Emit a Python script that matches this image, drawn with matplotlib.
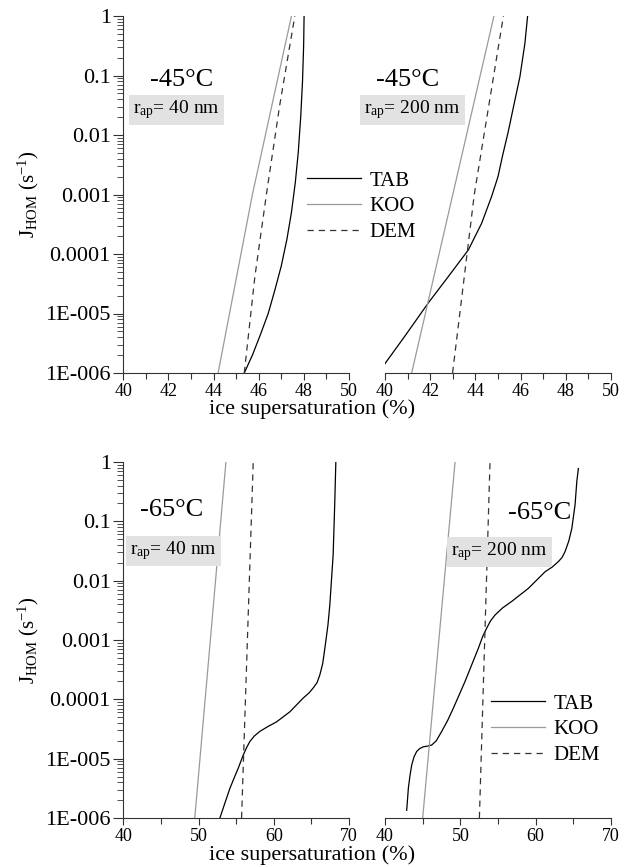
"""Homogeneous freezing rate vs ice supersaturation, four panels."""

import matplotlib
matplotlib.use('Agg')
import matplotlib.pyplot as plt
import numpy as np
from matplotlib.ticker import LogLocator, MultipleLocator, FixedFormatter, FixedLocator

plt.rcParams['font.family'] = ['Liberation Serif', 'DejaVu Serif']
plt.rcParams['mathtext.fontset'] = 'custom'
plt.rcParams['mathtext.rm'] = 'Liberation Serif'

# -45 C, r_ap = 40 nm  (x = ice supersaturation %, y = log10 J)
tab_45_40_x = [45.36, 45.72, 46.08, 46.42, 46.72, 47.0, 47.25, 47.45, 47.62, 47.75, 47.86, 47.94,
               47.99, 48.01]
tab_45_40_y = [-6.0, -5.7, -5.35, -5.0, -4.6, -4.2, -3.75, -3.3, -2.8, -2.3, -1.7, -1.1,
               -0.5, 0.0]
koo_45_40_x = [44.2, 45.72, 47.45]
koo_45_40_y = [-6.0, -3.0, 0.0]
dem_45_40_x = [45.36, 45.83, 46.34, 46.93, 47.6]
dem_45_40_y = [-6.0, -4.38, -3.0, -1.5, 0.0]

# -45 C, r_ap = 200 nm
tab_45_200_x = [39.85, 40.88, 41.92, 42.8, 43.69, 44.28, 44.72, 45.0, 45.2, 45.45, 45.7,
                45.97, 46.19, 46.31]
tab_45_200_y = [-5.92, -5.38, -4.82, -4.38, -3.93, -3.48, -3.03, -2.7, -2.35, -1.95, -1.5,
                -1.02, -0.46, 0.0]
koo_45_200_x = [41.18, 44.82]
koo_45_200_y = [-6.0, 0.0]
dem_45_200_x = [42.99, 43.95, 45.24]
dem_45_200_y = [-6.0, -3.0, 0.0]

# -65 C, r_ap = 40 nm
tab_65_40_x = [52.84, 53.5, 54.17, 54.75, 55.28, 55.94, 56.4, 56.83, 57.4, 58.15, 59.2, 60.37,
               62.14, 63.9, 64.7, 65.23, 65.75, 66.12, 66.5, 66.79, 67.2, 67.45, 67.89,
               68.1, 68.25]
tab_65_40_y = [-6.0, -5.75, -5.5, -5.32, -5.16, -4.94, -4.81, -4.71, -4.62, -4.54, -4.46,
               -4.38, -4.21, -3.98, -3.89, -3.81, -3.72, -3.59, -3.4, -3.14, -2.75, -2.41,
               -1.57, -0.72, 0.0]
koo_65_40_x = [49.5, 53.64]
koo_65_40_y = [-6.0, 0.0]
dem_65_40_x = [55.72, 57.27]
dem_65_40_y = [-6.0, 0.0]

# -65 C, r_ap = 200 nm
tab_65_200_x = [42.88, 43.1, 43.3, 43.54, 43.85, 44.2, 44.6, 45.09, 45.6, 46.2, 46.8, 47.53,
                48.3, 49.07, 50.62, 52.39, 53.0, 53.5, 54.0, 54.6, 55.6, 56.82, 59.03, 61.25,
                62.2, 63.0, 63.5, 63.9, 64.4, 64.8, 65.23, 65.46, 65.67]
tab_65_200_y = [-5.87, -5.5, -5.3, -5.11, -4.97, -4.88, -4.83, -4.8, -4.79, -4.77, -4.7,
                -4.54, -4.36, -4.15, -3.7, -3.14, -2.93, -2.8, -2.68, -2.58, -2.46, -2.35,
                -2.13, -1.85, -1.77, -1.68, -1.61, -1.51, -1.33, -1.12, -0.72, -0.33, -0.11]
koo_65_200_x = [45.0, 49.3]
koo_65_200_y = [-6.0, 0.0]
dem_65_200_x = [52.53, 53.94]
dem_65_200_y = [-6.0, 0.0]

ytick_vals = [1e-6, 1e-5, 1e-4, 1e-3, 1e-2, 1e-1, 1]
ytick_labels = ['1E-006', '1E-005', '0.0001', '0.001', '0.01', '0.1', '1']

W, H = 625, 867


def fx(px):
    return px / W


def fy(py):
    return 1 - py / H


fig = plt.figure(figsize=(6.25, 8.67), dpi=100)

panels = [
    # (left px, top px, right px, bottom px, xmax, step, data, left axis?)
    (123.3, 16, 349, 373, 50, 2,
     (tab_45_40_x, tab_45_40_y, koo_45_40_x, koo_45_40_y, dem_45_40_x, dem_45_40_y), True),
    (385, 16, 611, 373, 50, 2,
     (tab_45_200_x, tab_45_200_y, koo_45_200_x, koo_45_200_y, dem_45_200_x, dem_45_200_y), False),
    (123.3, 462, 349, 818, 70, 10,
     (tab_65_40_x, tab_65_40_y, koo_65_40_x, koo_65_40_y, dem_65_40_x, dem_65_40_y), True),
    (385, 462, 611, 818, 70, 10,
     (tab_65_200_x, tab_65_200_y, koo_65_200_x, koo_65_200_y, dem_65_200_x, dem_65_200_y), False),
]

axes = []
for l, t, r, b, xmax, step, data, left in panels:
    ax = fig.add_axes([fx(l), fy(b), fx(r - l), (b - t) / H])
    tx, ty, kx, ky, dx, dy = data
    ax.plot(tx, 10.0 ** np.array(ty), color='black', lw=0.9, label='TAB')
    ax.plot(kx, 10.0 ** np.array(ky), color='#9a9a9a', lw=0.9, label='KOO')
    ax.plot(dx, 10.0 ** np.array(dy), color='#333333', lw=0.9, ls=(0, (5, 4)), label='DEM')
    ax.set_yscale('log')
    ax.set_xlim(40, xmax)
    ax.set_ylim(1e-6, 1)
    ax.xaxis.set_major_locator(MultipleLocator(step))
    ax.xaxis.set_minor_locator(MultipleLocator(step / 2))
    ax.tick_params(axis='x', which='major', direction='out', length=5, width=0.8,
                   labelsize=13, pad=2, colors='#333333', labelcolor='black')
    ax.tick_params(axis='x', which='minor', direction='out', length=4, width=0.8,
                   colors='#333333')
    for s in ('top', 'right'):
        ax.spines[s].set_visible(False)
    ax.spines['bottom'].set_color('#333333')
    ax.spines['left'].set_color('#333333')
    if left:
        ax.yaxis.set_major_locator(FixedLocator(ytick_vals))
        ax.yaxis.set_major_formatter(FixedFormatter(ytick_labels))
        ax.yaxis.set_minor_locator(LogLocator(base=10, subs=np.arange(2, 10), numticks=20))
        ax.tick_params(axis='y', which='major', direction='out', length=7, width=0.8,
                       labelsize=16, pad=2, colors='#333333', labelcolor='black')
        ax.tick_params(axis='y', which='minor', direction='out', length=4, width=0.6,
                       colors='#333333')
        ax.set_ylabel(r'$\mathregular{J_{HOM}}$ $\mathregular{(s^{-1})}$', fontsize=15,
                      labelpad=3)
    else:
        ax.spines['left'].set_visible(False)
        ax.set_yticks([])
        ax.yaxis.set_minor_locator(FixedLocator([]))
    axes.append(ax)

# temperatures
fig.text(fx(182), fy(80), '-45°C', fontsize=19, ha='center', va='center')
fig.text(fx(408), fy(80), '-45°C', fontsize=19, ha='center', va='center')
fig.text(fx(172), fy(510), '-65°C', fontsize=19, ha='center', va='center')
fig.text(fx(540), fy(513), '-65°C', fontsize=19, ha='center', va='center')

# aperture radius boxes
box = dict(boxstyle='square,pad=0.2', facecolor='#e2e2e2', edgecolor='none')
fig.text(fx(133), fy(110), r'$\mathregular{r_{ap}}$= 40 nm', fontsize=14,
         ha='left', va='center', bbox=box)
fig.text(fx(364), fy(110), r'$\mathregular{r_{ap}}$= 200 nm', fontsize=14,
         ha='left', va='center', bbox=box)
fig.text(fx(130), fy(551), r'$\mathregular{r_{ap}}$= 40 nm', fontsize=14,
         ha='left', va='center', bbox=box)
fig.text(fx(451), fy(552), r'$\mathregular{r_{ap}}$= 200 nm', fontsize=14,
         ha='left', va='center', bbox=box)

# x labels
fig.text(fx(312), fy(409), 'ice supersaturation (%)', fontsize=16, ha='center', va='center')
fig.text(fx(312), fy(855), 'ice supersaturation (%)', fontsize=16, ha='center', va='center')

# legends
handles, labels = axes[0].get_legend_handles_labels()
for x0, y0 in ((307, 171), (491, 694)):
    fig.legend(handles, labels, loc='upper left', bbox_to_anchor=(fx(x0), fy(y0)),
               frameon=False, fontsize=15, handlelength=2.6, handletextpad=0.4,
               labelspacing=0.3, borderpad=0, borderaxespad=0)

fig.savefig('out.png', dpi=100)
print('Saved: out.png')
